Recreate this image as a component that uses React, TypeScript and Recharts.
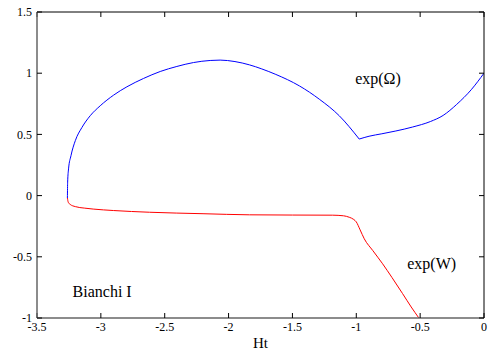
import { LineChart, Line, XAxis, YAxis, ReferenceDot } from 'recharts';

// blue curve: exp(Omega), arc up to the kink
const arcX = [-3.262, -3.26, -3.253, -3.234, -3.2, -3.148, -3.083, -3.005, -2.9, -2.796, -2.666, -2.535, -2.405, -2.275, -2.144, -2.066, -1.95, -1.836, -1.74, -1.63, -1.445, -1.29, -1.133, -0.977];
const arcY = [-0.02, 0.11, 0.218, 0.326, 0.449, 0.557, 0.653, 0.734, 0.821, 0.889, 0.957, 1.014, 1.055, 1.087, 1.104, 1.107, 1.095, 1.068, 1.035, 0.99, 0.896, 0.788, 0.652, 0.462];
// blue curve after the kink
const riseX = [-0.977, -0.9, -0.8, -0.69, -0.56, -0.42, -0.32, -0.214, -0.1, 0];
const riseY = [0.462, 0.485, 0.505, 0.528, 0.56, 0.605, 0.655, 0.745, 0.865, 1.0];

// red curve: exp(W)
const wX = [-3.262, -3.255, -3.24, -3.2, -3.13, -3.06, -2.9, -2.62, -2.2, -1.836, -1.5, -1.185, -1.1, -1.055, -1.02, -1.0, -0.97, -0.9375, -0.87, -0.794, -0.72, -0.638, -0.57, -0.51];
const wY = [-0.02, -0.055, -0.072, -0.09, -0.102, -0.11, -0.122, -0.136, -0.148, -0.157, -0.159, -0.16, -0.165, -0.177, -0.195, -0.215, -0.28, -0.353, -0.45, -0.557, -0.67, -0.8, -0.91, -1.0];

const xTicks = [-3.5, -3, -2.5, -2, -1.5, -1, -0.5, 0];
const yTicks = [-1, -0.5, 0, 0.5, 1, 1.5];

const toPts = (xs: number[], ys: number[]) => xs.map((x, i) => ({ x, y: ys[i] }));
const arc = toPts(arcX, arcY);
const rise = toPts(riseX, riseY);
const w = toPts(wX, wY);

const font = '"Liberation Serif", "Times New Roman", serif';

const BottomTick = (props: any) => (
  <text x={props.x} y={props.y} dy="0.71em" textAnchor="middle" fill="#000"
    style={{ fontFamily: font, fontSize: 12 }}>{props.payload.value}</text>
);
const LeftTick = (props: any) => (
  <text x={props.x} y={props.y} dy="0.35em" textAnchor="end" fill="#000"
    style={{ fontFamily: font, fontSize: 12 }}>{props.payload.value}</text>
);
const noLabel = () => '';

const annot = (value: string) => ({ value, position: 'center' as const, fontSize: 16, fill: '#000', fontFamily: font, style: { fontFamily: font } });

export default function App() {
  return (
    <div style={{ position: 'absolute', left: 0, top: 0, background: '#fff', fontFamily: font }}>
      <LineChart width={500} height={350} margin={{ top: 0, right: 0, bottom: 0, left: 0 }}>
        <XAxis xAxisId="b" type="number" dataKey="x" domain={[-3.5, 0]} ticks={xTicks} height={32}
          stroke="#666" strokeWidth={1.5} tickSize={-5} tickMargin={9} tick={BottomTick}
          tickLine={{ stroke: '#000', strokeWidth: 1 }} allowDataOverflow
          label={{ value: 'Ht', position: 'insideBottom', offset: 2, fontSize: 15, fill: '#000', style: { fontFamily: font } }} />
        <XAxis xAxisId="t" orientation="top" type="number" dataKey="x" domain={[-3.5, 0]} ticks={xTicks} height={12}
          stroke="#000" tickSize={-5} tickFormatter={noLabel} allowDataOverflow />
        <YAxis yAxisId="l" type="number" domain={[-1, 1.5]} ticks={yTicks} width={37}
          stroke="#666" strokeWidth={1.5} tickSize={-5} tickMargin={10} tick={LeftTick}
          tickLine={{ stroke: '#000', strokeWidth: 1 }} allowDataOverflow />
        <YAxis yAxisId="r" orientation="right" type="number" domain={[-1, 1.5]} ticks={yTicks} width={16}
          stroke="#000" tickSize={-5} tickFormatter={noLabel} allowDataOverflow />
        <Line xAxisId="b" yAxisId="l" data={arc} dataKey="y" type="monotoneX" stroke="#0000ff" strokeWidth={1}
          dot={false} isAnimationActive={false} />
        <Line xAxisId="b" yAxisId="l" data={rise} dataKey="y" type="monotoneX" stroke="#0000ff" strokeWidth={1}
          dot={false} isAnimationActive={false} />
        <Line xAxisId="b" yAxisId="l" data={w} dataKey="y" type="monotoneX" stroke="#ff0000" strokeWidth={1}
          dot={false} isAnimationActive={false} />
        <ReferenceDot xAxisId="b" yAxisId="l" x={-0.83} y={0.96} r={0} fill="none" stroke="none" ifOverflow="visible"
          label={annot('exp(Ω)')} />
        <ReferenceDot xAxisId="b" yAxisId="l" x={-0.41} y={-0.55} r={0} fill="none" stroke="none" ifOverflow="visible"
          label={annot('exp(W)')} />
        <ReferenceDot xAxisId="b" yAxisId="l" x={-2.99} y={-0.78} r={0} fill="none" stroke="none" ifOverflow="visible"
          label={annot('Bianchi I')} />
      </LineChart>
    </div>
  );
}
